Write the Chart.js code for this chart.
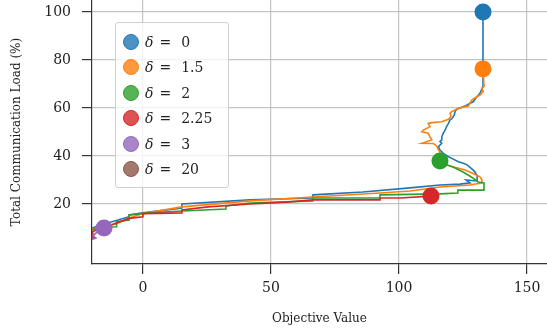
<!DOCTYPE html>
<html><head><meta charset="utf-8">
<script src="https://cdn.jsdelivr.net/npm/chart.js@4.4.0/dist/chart.umd.min.js"></script>
<style>
html,body{margin:0;padding:0;background:#fff;}
#wrap{position:relative;width:547px;height:334px;overflow:hidden;}
canvas{position:absolute;left:0;top:0;}
#legend{position:absolute;left:115px;top:22px;width:114px;height:166px;border:1px solid #d0d0d0;border-radius:3px;background:rgba(255,255,255,0.8);box-sizing:border-box;}
.item{position:absolute;left:0;height:20px;display:flex;align-items:center;font-family:"DejaVu Serif",serif;font-size:14px;color:#222;white-space:nowrap;}
.dot{width:16px;height:16px;border-radius:50%;box-sizing:border-box;border:1.2px solid;margin-left:7px;margin-right:6px;}
.item i{font-style:italic;}
.eq{margin-left:6px;}
.val{margin-left:10px;}
</style></head>
<body><div id="wrap"><canvas id="c" width="547" height="334"></canvas><div id="legend"></div></div>
<script>
const deltas = ['0', '1.5', '2', '2.25', '3', '20'];
const colors = ['#1f77b4', '#ff7f0e', '#2ca02c', '#d62728', '#9467bd', '#8c564b'];
const xTicks = [0, 50, 100, 150];
const yTicks = [20, 40, 60, 80, 100];

const d0X = [132.8, 132.8, 131.6, 130.4, 129.0, 127.7, 125.8, 122.5, 121.9, 121.6, 120.8, 119.9, 119.3, 118.6, 118.0, 117.3, 116.7, 116.7, 116.0, 116.7, 115.4, 116.0, 117.3, 119.3, 120.6, 123.2, 125.1, 126.6, 128.9, 129.7, 130.5, 130.5, 126.2, 127.7, 123.8, 116.0, 104.3, 85.9, 66.4, 66.0, 41.8, 15.2, 15.2, 0, -5.4, -5.4, -17.1, -19.9, -21];
const d0Y = [100, 68.9, 66.1, 64.7, 62.6, 62.0, 60.8, 59.5, 58.5, 57.1, 55.7, 55, 53.6, 52.2, 50.8, 49.5, 48.0, 46.7, 46.0, 45.3, 43.9, 42.5, 41.1, 39.7, 39.0, 37.6, 37.0, 36.3, 34.2, 33.3, 31.7, 29.6, 30, 28.8, 28.3, 27.9, 26.7, 25, 23.8, 22.5, 21.7, 20, 18.3, 16.3, 15.4, 14.7, 11.0, 10.0, 9.6];

const d15X = [132.8, 133.2, 132.3, 132.9, 131.6, 130.4, 128.4, 127.7, 127.1, 125.8, 123.2, 121.9, 120.6, 119.9, 120.3, 119.3, 116.7, 112.8, 111.4, 112.1, 109.5, 108.9, 111.4, 112.1, 112.8, 108.9, 113.4, 114.7, 115.4, 116.0, 116.0, 119.9, 125.8, 128.5, 131.6, 132.4, 132.4, 127.7, 116.0, 104.3, 92.6, 66.4, 41.8, 15.2, 0, -5.4, -10.5, -16.8, -19.9, -21];
const d15Y = [76.3, 68.9, 68.2, 66.8, 65.4, 64.7, 63.3, 62.0, 60.8, 60.5, 59.9, 59.2, 58.5, 57.8, 56.4, 55.3, 54.3, 53.9, 53.6, 52.2, 50.8, 50.1, 49.5, 48.0, 46.7, 45.3, 45.2, 44.2, 42.5, 41.7, 37.1, 35.8, 34.2, 32.9, 31.3, 30, 28.8, 27.9, 27.1, 25.4, 24.6, 22.9, 21.3, 18.8, 16.0, 14.2, 11.7, 10.4, 9.6, 9.2];

const d2X = [116.0, 118.8, 121.1, 125.0, 127.0, 128.9, 130.9, 133.2, 133.2, 123.0, 123.0, 116.0, 92.6, 92.6, 66.4, 66.4, 41.8, 32.4, 32.4, 15.2, 2.7, -5.4, -5.4, -10.3, -10.3, -16.8, -19.9, -21];
const d2Y = [37.9, 36.3, 35.4, 33.3, 32.1, 30.8, 29.2, 28.8, 25.8, 25.8, 24.6, 24.2, 23.8, 22.5, 22.5, 21.3, 20.4, 19.2, 17.9, 17.1, 16.3, 15.4, 13.3, 12.6, 10.5, 10.2, 9.2, 8.8];

const d225X = [112.5, 100.4, 92.6, 92.6, 66.4, 56.3, 41.8, 25.4, 15.2, 15.2, 0, 0, -5.4, -16.8, -19.6, -19.6, -19.1, -20.7];
const d225Y = [23.3, 22.5, 22.5, 21.7, 21.7, 20.8, 20, 18.8, 17.5, 16.3, 16.0, 14.7, 14.0, 9.6, 8.5, 6.25, 5.8, 5.4];

const d3X = [-15.2, -18.0, -19.5, -18.4, -20.7, -22];
const d3Y = [10, 8.3, 6.7, 5.8, 5, 4.5];

const d20X = [-24, -27, -30];
const d20Y = [5, 4, 3];

const seriesX = [d0X, d15X, d2X, d225X, d3X, d20X];
const seriesY = [d0Y, d15Y, d2Y, d225Y, d3Y, d20Y];

const datasets = seriesX.map((xs, i) => ({
  label: 'δ = ' + deltas[i],
  data: xs.map((x, k) => ({x: x, y: seriesY[i][k]})),
  showLine: true,
  borderColor: colors[i],
  backgroundColor: colors[i],
  borderWidth: 1.6,
  tension: 0,
  pointRadius: ctx => ctx.dataIndex === 0 ? 8.5 : 0,
  pointHoverRadius: 0,
  pointBorderWidth: 0,
  order: 5 - i
}));

const serif = '"DejaVu Serif", serif';
new Chart(document.getElementById('c'), {
  type: 'scatter',
  data: {datasets: datasets},
  options: {
    responsive: false,
    animation: false,
    devicePixelRatio: 1,
    layout: {padding: 0, autoPadding: false},
    plugins: {legend: {display: false}, tooltip: {enabled: false}},
    scales: {
      x: {
        type: 'linear', min: -19.9, max: 157.8,
        afterBuildTicks: s => { s.ticks = xTicks.map(v => ({value: v})); },
        afterFit: s => { s.height = 70; s.paddingLeft = 0; s.paddingRight = 0; },
        grid: {color: 'rgba(176,176,176,0.75)', lineWidth: 1.2, tickColor: '#333', tickLength: 10},
        border: {color: '#333', width: 1.2},
        ticks: {font: {family: serif, size: 14}, color: '#222', padding: 6, maxRotation: 0},
        title: {display: true, text: 'Objective Value', font: {family: serif, size: 12}, color: '#222', padding: {top: 0, bottom: 8}}
      },
      y: {
        type: 'linear', min: -5, max: 105,
        afterBuildTicks: s => { s.ticks = yTicks.map(v => ({value: v})); },
        afterFit: s => { s.width = 92; s.paddingTop = 0; s.paddingBottom = 0; },
        grid: {color: 'rgba(176,176,176,0.75)', lineWidth: 1.2, tickColor: '#333', tickLength: 10},
        border: {color: '#333', width: 1.2},
        ticks: {font: {family: serif, size: 14}, color: '#222', padding: 11},
        title: {display: true, text: 'Total Communication Load (%)', font: {family: serif, size: 12}, color: '#222', padding: {top: 10, bottom: 0}}
      }
    }
  }
});

const leg = document.getElementById('legend');
deltas.forEach((d, i) => {
  const it = document.createElement('div');
  it.className = 'item';
  it.style.top = (8.7 + i * 25.5) + 'px';
  const dot = document.createElement('span');
  dot.className = 'dot';
  dot.style.borderColor = colors[i];
  dot.style.background = colors[i] + 'cc';
  it.appendChild(dot);
  const t = document.createElement('span');
  t.innerHTML = '<i>δ</i><span class="eq">=</span><span class="val">' + d + '</span>';
  it.appendChild(t);
  leg.appendChild(it);
});
</script>
</body></html>
